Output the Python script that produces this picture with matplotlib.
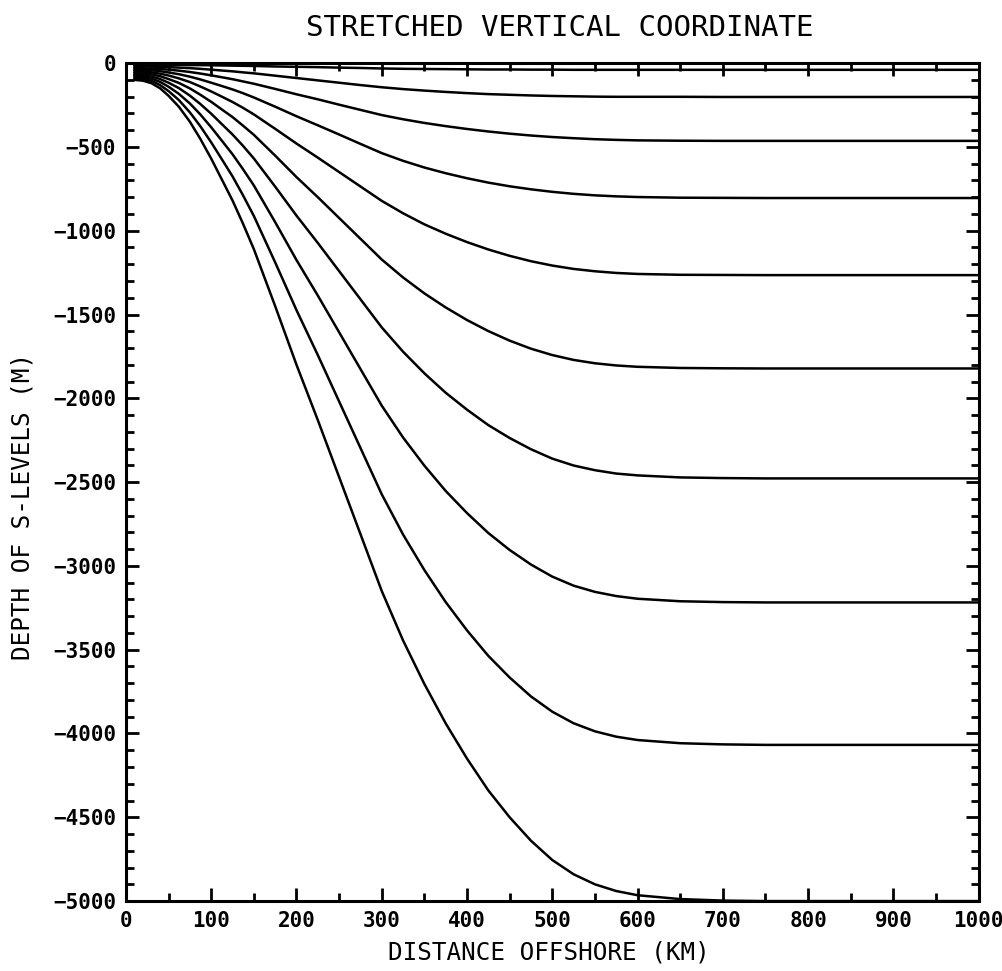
import matplotlib
matplotlib.use('Agg')
import matplotlib.pyplot as plt
from matplotlib.ticker import MultipleLocator

# distance offshore (km) where the s-level curves are sampled
dist_km = [10, 20, 30, 40, 50, 62, 75, 87, 100, 112,
           125, 137, 150, 175, 200, 225, 250, 275, 300, 325,
           350, 375, 400, 425, 450, 475, 500, 525, 550, 575,
           600, 650, 700, 750, 800, 900, 1000]

# depth of each s-level (m), shallowest first, last one is the bottom
lev_01 = [-10, -10, -10, -10, -11, -11, -12, -12, -13, -14,
          -15, -16, -17, -20, -22, -24, -27, -29, -32, -34,
          -35, -36, -37, -38, -38, -39, -39, -40, -40, -40,
          -40, -40, -40, -40, -40, -40, -40]
lev_02 = [-20, -20, -21, -22, -24, -27, -30, -34, -39, -44,
          -49, -55, -61, -75, -89, -103, -117, -131, -144, -155,
          -164, -172, -179, -185, -189, -193, -196, -198, -200, -201,
          -201, -201, -202, -202, -202, -202, -202]
lev_03 = [-30, -31, -32, -35, -39, -45, -53, -62, -73, -84,
          -96, -109, -123, -154, -186, -216, -248, -279, -310, -335,
          -357, -376, -393, -408, -421, -432, -441, -448, -454, -458,
          -461, -463, -464, -464, -464, -464, -464]
lev_04 = [-40, -41, -43, -48, -56, -66, -81, -97, -117, -136,
          -157, -179, -205, -260, -317, -371, -426, -482, -537, -583,
          -623, -657, -687, -713, -735, -753, -768, -780, -789, -795,
          -799, -803, -804, -805, -805, -805, -805]
lev_05 = [-50, -51, -55, -63, -74, -91, -113, -139, -169, -199,
          -232, -266, -306, -392, -480, -564, -650, -736, -822, -896,
          -962, -1018, -1068, -1112, -1150, -1182, -1208, -1228, -1242, -1252,
          -1258, -1263, -1264, -1265, -1265, -1265, -1265]
lev_06 = [-60, -62, -67, -78, -95, -118, -151, -188, -231, -275,
          -322, -372, -428, -552, -680, -800, -924, -1048, -1172, -1279,
          -1374, -1458, -1533, -1599, -1656, -1704, -1742, -1771, -1791, -1804,
          -1812, -1819, -1821, -1822, -1822, -1822, -1822]
lev_07 = [-70, -73, -80, -95, -117, -149, -194, -243, -302, -362,
          -426, -492, -569, -737, -910, -1073, -1241, -1409, -1577, -1722,
          -1851, -1967, -2068, -2160, -2237, -2304, -2360, -2401, -2429, -2449,
          -2460, -2472, -2476, -2478, -2478, -2478, -2478]
lev_08 = [-80, -83, -93, -112, -141, -183, -241, -305, -383, -460,
          -544, -631, -730, -949, -1175, -1387, -1606, -1825, -2044, -2234,
          -2402, -2553, -2685, -2804, -2905, -2992, -3064, -3118, -3155, -3180,
          -3196, -3211, -3216, -3218, -3218, -3218, -3218]
lev_09 = [-90, -94, -106, -131, -167, -220, -294, -375, -473, -570,
          -676, -786, -912, -1189, -1474, -1742, -2019, -2296, -2573, -2813,
          -3025, -3216, -3385, -3537, -3666, -3779, -3870, -3939, -3987, -4019,
          -4039, -4058, -4065, -4068, -4068, -4068, -4068]
bottom = [-100, -105, -120, -150, -195, -260, -350, -450, -570, -690,
          -820, -955, -1110, -1450, -1800, -2130, -2470, -2810, -3150, -3445,
          -3705, -3940, -4150, -4340, -4500, -4640, -4755, -4840, -4900, -4940,
          -4965, -4988, -4997, -5000, -5000, -5000, -5000]

levels = [lev_01, lev_02, lev_03, lev_04, lev_05, lev_06, lev_07, lev_08, lev_09, bottom]

plt.rcParams['font.family'] = ['DejaVu Sans Mono', 'DejaVu Sans']

fig = plt.figure(figsize=(10.02, 9.71), dpi=100)
ax = fig.add_axes([0.1257, 0.072, 0.851, 0.863])

for lev in levels:
    ax.plot(dist_km, lev, color='black', linewidth=1.8, clip_on=False,
            solid_joinstyle='round')

ax.set_xlim(0, 1000)
ax.set_ylim(-5000, 0)
ax.xaxis.set_major_locator(MultipleLocator(100))
ax.xaxis.set_minor_locator(MultipleLocator(50))
ax.yaxis.set_major_locator(MultipleLocator(500))
ax.yaxis.set_minor_locator(MultipleLocator(100))
ax.tick_params(which='both', direction='in', top=True, right=True,
               width=2.0, color='black')
ax.tick_params(which='major', length=9.5, labelsize=15, pad=7)
ax.tick_params(which='minor', length=5.5)
for lbl in ax.get_xticklabels() + ax.get_yticklabels():
    lbl.set_fontweight('bold')
for sp in ax.spines.values():
    sp.set_linewidth(2.2)

fig.text(0.559, 0.971, "STRETCHED VERTICAL COORDINATE", ha='center', va='center',
         fontsize=21)
fig.text(0.548, 0.019, "DISTANCE OFFSHORE (KM)", ha='center', va='center',
         fontsize=17.5)
fig.text(0.022, 0.478, "DEPTH OF S-LEVELS (M)", ha='center', va='center',
         rotation=90, fontsize=17.5)

fig.savefig("out.png", dpi=100, facecolor='white')
